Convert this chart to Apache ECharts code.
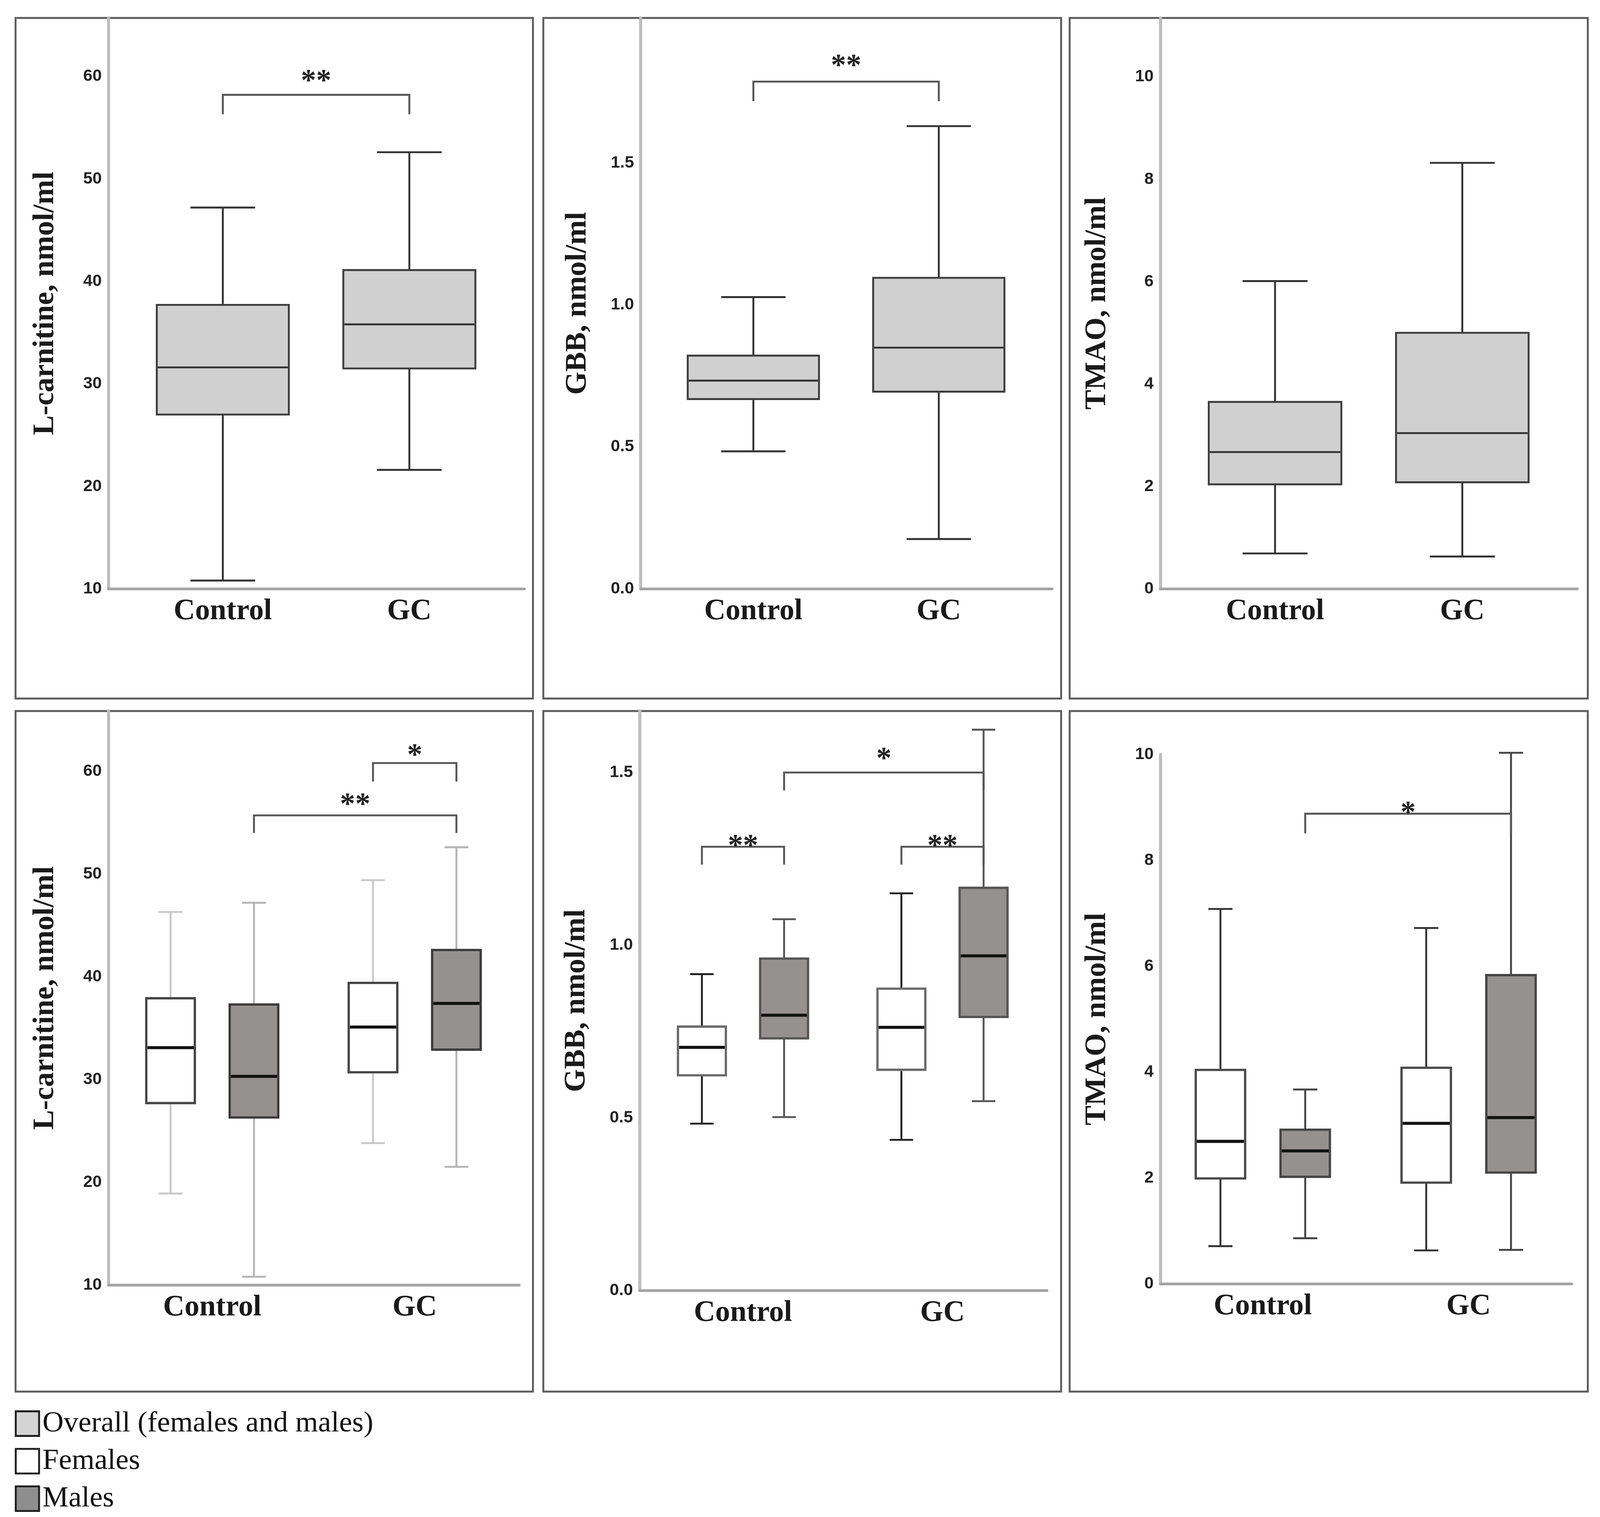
<!DOCTYPE html>
<html><head><meta charset="utf-8">
<script src="https://cdn.jsdelivr.net/npm/echarts@6/dist/echarts.min.js"></script>
<style>html,body{margin:0;padding:0;background:#fff;overflow:hidden}#c{width:100vw;height:100vh}</style>
</head><body><div id="c"></div><script>
// ---------- DATA ----------
const categories = ['Control', 'GC'];
// each row: [min, Q1, median, Q3, max] for Control, GC
const lcOverall   = [[10.8, 27.0, 31.6, 37.7, 47.2], [21.6, 31.5, 35.8, 41.1, 52.6]];
const gbbOverall  = [[0.484, 0.668, 0.733, 0.821, 1.027], [0.175, 0.694, 0.849, 1.095, 1.629]];
const tmaoOverall = [[0.69, 2.04, 2.67, 3.65, 6.01], [0.63, 2.08, 3.04, 5.00, 8.32]];
const lcFemales   = [[18.9, 27.7, 33.1, 37.9, 46.3], [23.8, 30.7, 35.1, 39.4, 49.4]];
const lcMales     = [[10.8, 26.3, 30.3, 37.3, 47.2], [21.5, 32.9, 37.4, 42.6, 52.6]];
const gbbFemales  = [[0.483, 0.623, 0.704, 0.764, 0.916], [0.436, 0.639, 0.762, 0.874, 1.150]];
const gbbMales    = [[0.502, 0.730, 0.797, 0.961, 1.075], [0.548, 0.792, 0.969, 1.166, 1.624]];
const tmaoFemales = [[0.71, 1.99, 2.69, 4.04, 7.08], [0.63, 1.91, 3.03, 4.08, 6.72]];
const tmaoMales   = [[0.86, 2.02, 2.51, 2.91, 3.67], [0.64, 2.10, 3.14, 5.83, 10.03]];
// significance brackets: [fromCategory, fromGroup, toCategory, toGroup, barY, legEndY, label, labelY]
const lcOverallSig  = [['Control', 'Overall', 'GC', 'Overall', 58.2, 56.3, '**', 60.0]];
const gbbOverallSig = [['Control', 'Overall', 'GC', 'Overall', 1.786, 1.717, '**', 1.857]];
const tmaoOverallSig = [];
const lcSexSig = [['Control', 'Males', 'GC', 'Males', 55.7, 54.0, '**', 57.2],
                  ['GC', 'Females', 'GC', 'Males', 60.8, 59.0, '*', 62.0]];
const gbbSexSig = [['Control', 'Females', 'Control', 'Males', 1.285, 1.233, '**', 1.300],
                   ['GC', 'Females', 'GC', 'Males', 1.285, 1.233, '**', 1.300],
                   ['Control', 'Males', 'GC', 'Males', 1.500, 1.448, '*', 1.552]];
const tmaoSexSig = [['Control', 'Males', 'GC', 'Males', 8.88, 8.51, '*', 8.98]];
const lcTicks   = ['10', '20', '30', '40', '50', '60'];
const gbbTicks  = ['0.0', '0.5', '1.0', '1.5'];
const tmaoTicks = ['0', '2', '4', '6', '8', '10'];
const yTitles = ['L-carnitine, nmol/ml', 'GBB, nmol/ml', 'TMAO, nmol/ml'];
const legendNames = ['Overall (females and males)', 'Females', 'Males'];

// ---------- STYLE / LAYOUT (designed on the 4323 x 3883 reference frame, fitted to the viewport) ----------
const el = document.getElementById('c');
const VW = el.clientWidth || window.innerWidth, VH = el.clientHeight || window.innerHeight;
const sx = VW / 4323, sy = VH / 3883, sf = Math.sqrt(sx * sy);
const X = (v) => v * sx, Y = (v) => v * sy, F = (v) => v * sf;
const SERIF = '"Liberation Serif", "Times New Roman", serif';
const SANS = '"Liberation Sans", Arial, sans-serif';
const groupOffset = { Overall: 0, Females: -0.206, Males: 0.206 };
const overallStyle = { fill: '#d0d0d0', border: '#3d3d3d', bw: 5, whisker: '#333', ww: 5, median: '#333', mw: 5, width: 0.708 };
function sexStyle(fill, border, whisker) {
  return { fill, border, bw: 6, whisker, ww: 5, median: '#111', mw: 8, width: 0.24 };
}
const panels = [
  { frame: [42, 46, 1398, 1742], axis: [293, 46, 1124, 1461], band: [350, 1008], y: [10, 65.7, 10], ticks: lcTicks, dec: 0, title: yTitles[0],
    boxes: [[legendNames[0], lcOverall, overallStyle, 'Overall']], sig: lcOverallSig },
  { frame: [1468, 46, 1399, 1742], axis: [1731, 46, 1112, 1461], band: [1785, 1002], y: [0, 2.01, 0.5], ticks: gbbTicks, dec: 1, title: yTitles[1],
    boxes: [[legendNames[0], gbbOverall, overallStyle, 'Overall']], sig: gbbOverallSig },
  { frame: [2890, 46, 1400, 1742], axis: [3135, 46, 1127, 1461], band: [3192, 1012], y: [0, 11.15, 2], ticks: tmaoTicks, dec: 0, title: yTitles[2],
    boxes: [[legendNames[0], tmaoOverall, overallStyle, 'Overall']], sig: tmaoOverallSig },
  { frame: [42, 1820, 1398, 1742], axis: [293, 1820, 1110, 1469], band: [300, 1094], y: [10, 65.86, 10], ticks: lcTicks, dec: 0, title: yTitles[0],
    boxes: [[legendNames[1], lcFemales, sexStyle('#ffffff', '#444', '#c8c8c8'), 'Females'],
            [legendNames[2], lcMales, sexStyle('#959190', '#3a3a3a', '#b4b4b4'), 'Males']], sig: lcSexSig },
  { frame: [1468, 1820, 1399, 1742], axis: [1728, 1820, 1101, 1483], band: [1738, 1078], y: [0, 1.678, 0.5], ticks: gbbTicks, dec: 1, title: yTitles[1],
    boxes: [[legendNames[1], gbbFemales, sexStyle('#ffffff', '#6a6a6a', '#222'), 'Females'],
            [legendNames[2], gbbMales, sexStyle('#959190', '#555', '#555'), 'Males']], sig: gbbSexSig },
  { frame: [2890, 1820, 1400, 1742], axis: [3135, 1931, 1112, 1355], band: [3134, 1112], y: [0, 10, 2], ticks: tmaoTicks, dec: 0, title: yTitles[2],
    boxes: [[legendNames[1], tmaoFemales, sexStyle('#ffffff', '#4a4a4a', '#333'), 'Females'],
            [legendNames[2], tmaoMales, sexStyle('#959190', '#444', '#444'), 'Males']], sig: tmaoSexSig }
];

function boxRenderer(st, group) {
  return function (params, api) {
    const c = api.value(0);
    const bwid = api.size([1, 0])[0];
    const pMin = api.coord([c, api.value(1)]);
    const cx = pMin[0] + groupOffset[group] * bwid;
    const hw = st.width * bwid / 2, cw = hw * 0.49;
    const yMin = pMin[1];
    const yQ1 = api.coord([c, api.value(2)])[1];
    const yMed = api.coord([c, api.value(3)])[1];
    const yQ3 = api.coord([c, api.value(4)])[1];
    const yMax = api.coord([c, api.value(5)])[1];
    const ws = { stroke: st.whisker, lineWidth: F(st.ww) };
    return { type: 'group', children: [
      { type: 'line', shape: { x1: cx, y1: yQ3, x2: cx, y2: yMax }, style: ws },
      { type: 'line', shape: { x1: cx, y1: yQ1, x2: cx, y2: yMin }, style: ws },
      { type: 'line', shape: { x1: cx - cw, y1: yMax, x2: cx + cw, y2: yMax }, style: ws },
      { type: 'line', shape: { x1: cx - cw, y1: yMin, x2: cx + cw, y2: yMin }, style: ws },
      { type: 'rect', shape: { x: cx - hw, y: yQ3, width: 2 * hw, height: yQ1 - yQ3 }, style: { fill: st.fill, stroke: st.border, lineWidth: F(st.bw) } },
      { type: 'line', shape: { x1: cx - hw + F(st.bw) / 2, y1: yMed, x2: cx + hw - F(st.bw) / 2, y2: yMed }, style: { stroke: st.median, lineWidth: F(st.mw) } }
    ] };
  };
}
function sigRenderer(sig) {
  return function (params, api) {
    const b = sig[params.dataIndex];
    const bwid = api.size([1, 0])[0];
    const i1 = categories.indexOf(b[0]), i2 = categories.indexOf(b[2]);
    const x1 = api.coord([i1, b[4]])[0] + groupOffset[b[1]] * bwid;
    const x2 = api.coord([i2, b[4]])[0] + groupOffset[b[3]] * bwid;
    const yb = api.coord([i1, b[4]])[1];
    const yl = api.coord([i1, b[5]])[1];
    const yt = api.coord([i1, b[7]])[1];
    return { type: 'group', children: [
      { type: 'polyline', shape: { points: [[x1, yl], [x1, yb], [x2, yb], [x2, yl]] }, style: { stroke: '#555', lineWidth: F(5), fill: null } },
      { type: 'text', style: { text: b[6], x: (x1 + x2) / 2, y: yt + Y(14), align: 'center', verticalAlign: 'middle',
        fontSize: F(80), fontWeight: 'bold', fontFamily: SERIF, fill: '#222' } }
    ] };
  };
}

const grid = [], xAxis = [], yAxis = [], series = [], graphic = [];
panels.forEach((p, k) => {
  const A = 2 * k, B = 2 * k + 1;
  grid.push({ left: X(p.axis[0]), top: Y(p.axis[1]), width: X(p.axis[2]), height: Y(p.axis[3]), outerBoundsMode: 'none' });
  grid.push({ left: X(p.band[0]), top: Y(p.axis[1]), width: X(p.band[1]), height: Y(p.axis[3]), outerBoundsMode: 'none' });
  xAxis.push({ gridIndex: A, type: 'value', min: 0, max: 1, axisLine: { show: true, lineStyle: { color: '#a4a4a4', width: F(7) } },
    axisTick: { show: false }, axisLabel: { show: false }, splitLine: { show: false } });
  xAxis.push({ gridIndex: B, type: 'category', data: categories, axisLine: { show: false }, axisTick: { show: false }, splitLine: { show: false },
    axisLabel: { show: true, interval: 0, margin: Y(20), fontSize: F(78), fontWeight: 'bold', fontFamily: SERIF, color: '#1a1a1a' } });
  yAxis.push({ gridIndex: A, type: 'value', min: p.y[0], max: p.y[1], interval: p.y[2],
    axisLine: { show: true, lineStyle: { color: '#bdbdbd', width: F(8) } }, axisTick: { show: false }, splitLine: { show: false },
    axisLabel: { show: true, margin: X(18), fontSize: F(44), fontWeight: 'bold', fontFamily: SANS, color: '#222',
      formatter: (v) => { const s = Number(v).toFixed(p.dec); return p.ticks.indexOf(s) >= 0 ? s : ''; } },
    name: p.title, nameLocation: 'middle', nameGap: X(130),
    nameTextStyle: { fontSize: F(78), fontWeight: 'bold', fontFamily: SERIF, color: '#1a1a1a' } });
  yAxis.push({ gridIndex: B, type: 'value', min: p.y[0], max: p.y[1], show: false, splitLine: { show: false } });
  p.boxes.forEach(([name, arr, st, group]) => {
    series.push({ type: 'custom', name, xAxisIndex: B, yAxisIndex: B, z: 3,
      dimensions: ['cat', 'min', 'q1', 'med', 'q3', 'max'],
      encode: { x: 'cat', y: ['min', 'q1', 'med', 'q3', 'max'] },
      itemStyle: { color: st.fill, borderColor: st.border, borderWidth: F(st.bw) },
      data: categories.map((c, i) => [c].concat(arr[i])),
      renderItem: boxRenderer(st, group) });
  });
  if (p.sig.length) {
    series.push({ type: 'custom', name: 'significance', xAxisIndex: B, yAxisIndex: B, z: 4,
      dimensions: ['cat', 'bar', 'leg', 'lab'], encode: { x: 'cat', y: ['bar', 'leg', 'lab'] },
      data: p.sig.map(b => [b[0], b[4], b[5], b[7]]),
      renderItem: sigRenderer(p.sig) });
  }
  graphic.push({ type: 'rect', silent: true, z: 0, shape: { x: X(p.frame[0]), y: Y(p.frame[1]), width: X(p.frame[2]), height: Y(p.frame[3]) },
    style: { fill: 'none', stroke: '#5c5c5c', lineWidth: F(5) } });
});

const legendFills = ['#d4d4d4', '#ffffff', '#8e8e8e'];
const LFS = F(77);
const option = {
  animation: false,
  backgroundColor: '#ffffff',
  grid, xAxis, yAxis, series, graphic,
  legend: {
    left: X(40), top: Y(3644) - LFS / 2, orient: 'vertical', selectedMode: false, padding: 0,
    width: X(1400), height: Y(320),
    itemWidth: X(63), itemHeight: Y(63), itemGap: Y(96) - LFS,
    textStyle: { fontSize: LFS, lineHeight: LFS, fontFamily: SERIF, color: '#111', padding: [0, 0, 0, X(4)] },
    data: legendNames.map((n, i) => ({ name: n, icon: 'rect',
      itemStyle: { color: legendFills[i], borderColor: '#1e1e1e', borderWidth: F(5) } }))
  }
};
const chart = echarts.init(el, null, { renderer: 'canvas' });
chart.setOption(option);
</script></body></html>
